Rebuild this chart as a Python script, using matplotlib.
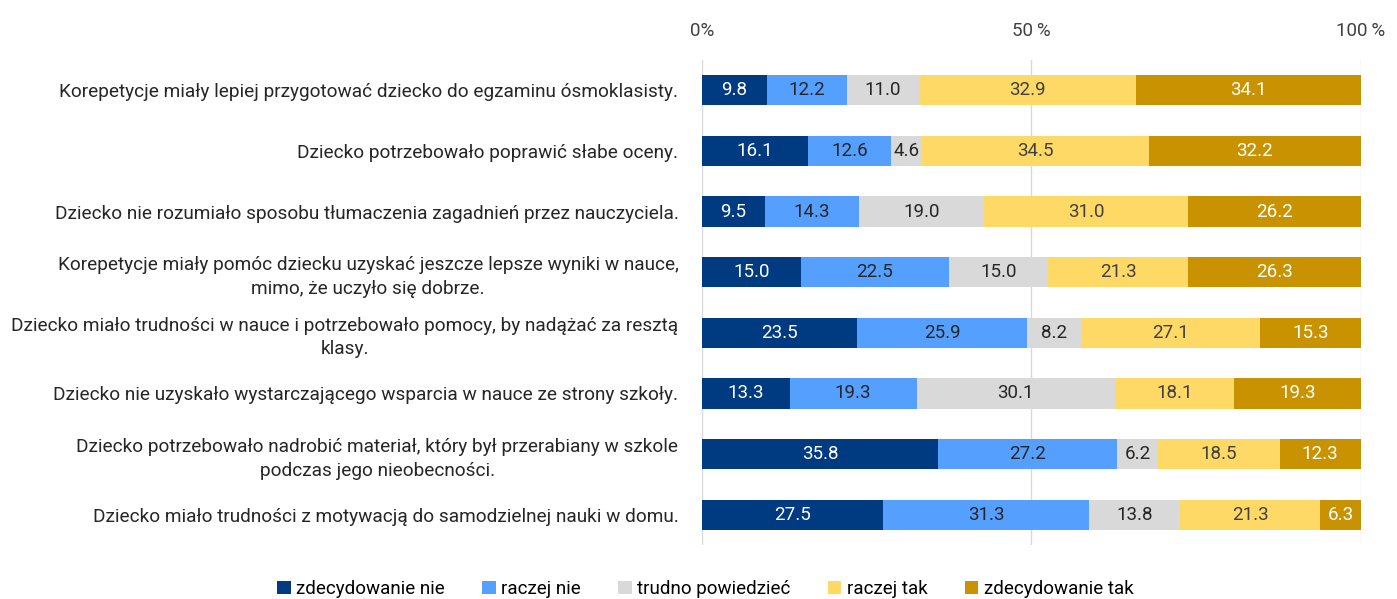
import matplotlib.pyplot as plt
import numpy as np

plt.rcParams['font.family'] = ['Roboto', 'DejaVu Sans']

# pytania (od góry)
labels = [
    'Korepetycje miały lepiej przygotować dziecko do egzaminu ósmoklasisty.',
    'Dziecko potrzebowało poprawić słabe oceny.',
    'Dziecko nie rozumiało sposobu tłumaczenia zagadnień przez nauczyciela.',
    'Korepetycje miały pomóc dziecku uzyskać jeszcze lepsze wyniki w nauce,\nmimo, że uczyło się dobrze.',
    'Dziecko miało trudności w nauce i potrzebowało pomocy, by nadążać za resztą\nklasy.',
    'Dziecko nie uzyskało wystarczającego wsparcia w nauce ze strony szkoły.',
    'Dziecko potrzebowało nadrobić materiał, który był przerabiany w szkole\npodczas jego nieobecności.',
    'Dziecko miało trudności z motywacją do samodzielnej nauki w domu.',
]

answers = ['zdecydowanie nie', 'raczej nie', 'trudno powiedzieć', 'raczej tak', 'zdecydowanie tak']

zdec_nie = [9.8, 16.1, 9.5, 15.0, 23.5, 13.3, 35.8, 27.5]
raczej_nie = [12.2, 12.6, 14.3, 22.5, 25.9, 19.3, 27.2, 31.3]
trudno = [11.0, 4.6, 19.0, 15.0, 8.2, 30.1, 6.2, 13.8]
raczej_tak = [32.9, 34.5, 31.0, 21.3, 27.1, 18.1, 18.5, 21.3]
zdec_tak = [34.1, 32.2, 26.2, 26.3, 15.3, 19.3, 12.3, 6.3]

colors = ['#003A80', '#559FFF', '#D9D9D9', '#FFD966', '#C99200']
text_colors = ['white', '#262626', '#262626', '#404040', 'white']

series = [zdec_nie, raczej_nie, trudno, raczej_tak, zdec_tak]

fig = plt.figure(figsize=(13.97, 5.99), dpi=100)
ax = fig.add_axes([0.5025, 0.09, 0.4715, 0.81])

y = np.arange(len(labels))
left = np.zeros(len(labels))
for vals, name, c, tc in zip(series, answers, colors, text_colors):
    vals = np.array(vals)
    bars = ax.barh(y, vals, left=left, height=0.5, color=c, label=name, zorder=3)
    for yi, l, v in zip(y, left, vals):
        ax.text(l + v / 2, yi, f'{v:.1f}', ha='center', va='center',
                color=tc, fontsize=13.5, zorder=4)
    left += vals

ax.set_xlim(0, 100)
ax.set_ylim(len(labels) - 0.5, -0.5)
ax.set_yticks(y)
ax.set_yticklabels(labels, fontsize=13.7, color='#262626', multialignment='center',
                   linespacing=1.4)
ax.tick_params(axis='y', length=0, pad=17)

ax.xaxis.tick_top()
ax.set_xticks([0, 50, 100])
ax.set_xticklabels(['0%', '50\u2009%', '100\u2009%'], fontsize=13.5, color='#404040')
ax.tick_params(axis='x', length=0, pad=14)
ax.grid(axis='x', color='#D9D9D9', linewidth=1, zorder=0)
for s in ax.spines.values():
    s.set_visible(False)

fig.legend(loc='lower center', bbox_to_anchor=(0.505, -0.027), ncol=5, frameon=False,
           fontsize=13.5, handlelength=0.7, handleheight=0.7, handletextpad=0.3,
           columnspacing=2.0)

plt.savefig('out.png', dpi=100)
